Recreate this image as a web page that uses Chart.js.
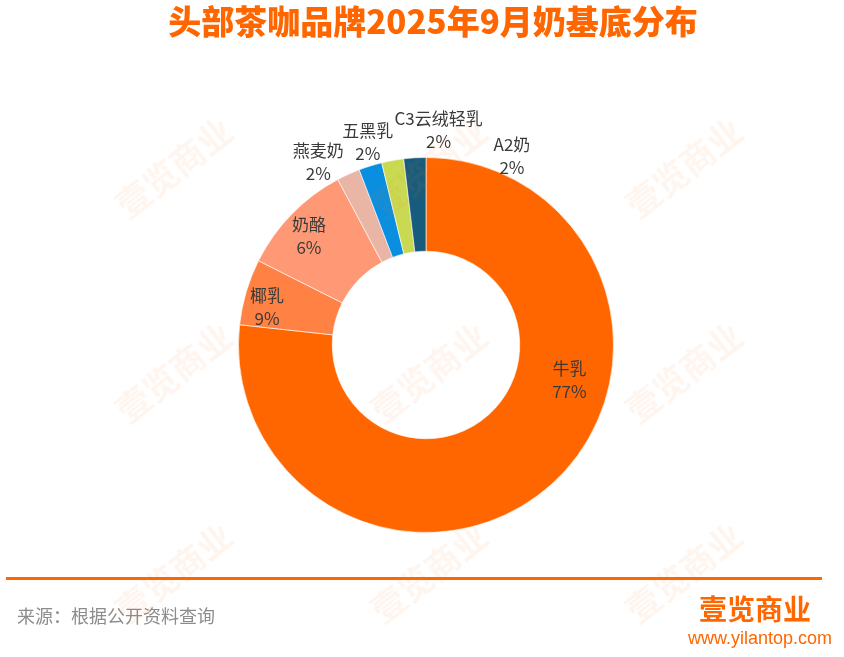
<!DOCTYPE html>
<html><head><meta charset="utf-8">
<script src="https://cdn.jsdelivr.net/npm/chart.js@4/dist/chart.umd.min.js"></script>
<style>
html,body{margin:0;padding:0;background:#fff;}
#wrap{position:relative;width:844px;height:657px;overflow:hidden;font-family:"Noto Sans CJK SC","Noto Sans",sans-serif;}
#c{position:absolute;left:0;top:0;}
#title{position:absolute;left:0;width:866px;top:-3px;height:46px;line-height:46px;text-align:center;color:#FF6600;font-size:33px;font-weight:900;}
#rule{position:absolute;left:6px;top:577px;width:816px;height:3px;background:#FF6600;}
#src{position:absolute;left:17px;top:602px;font-size:18px;color:#8c8c8c;line-height:26px;}
#logo{position:absolute;left:699px;top:590px;font-size:28px;color:#FF6600;font-weight:700;line-height:36px;letter-spacing:0px;}
#url{position:absolute;left:688px;top:627px;font-size:18px;color:#FF6600;line-height:22px;font-family:"Liberation Sans Narrow","Liberation Sans",sans-serif;}
.wm{position:absolute;font-size:34px;font-weight:700;color:rgba(255,110,30,0.07);transform:rotate(-38deg);white-space:nowrap;pointer-events:none;}
</style></head>
<body><div id="wrap">
<canvas id="c" width="844" height="657"></canvas>
<div id="title">头部茶咖品牌2025年9月奶基底分布</div>
<div id="rule"></div>
<div id="src">来源：根据公开资料查询</div>
<div id="logo">壹览商业</div>
<div id="url">www.yilantop.com</div>
</div>
<script>
const categories = ["牛乳","椰乳","奶酪","燕麦奶","五黑乳","C3云绒轻乳","A2奶"];
// slice sizes as drawn in the picture (%)
const sliceValues = [76.8, 5.7, 9.8, 2.0, 2.0, 1.9, 1.9];
// percentage texts as printed on the picture
const labelPercents = ["77%","9%","6%","2%","2%","2%","2%"];
const sliceColors = ["#FF6600","#FF8244","#FF9874","#E9B5A4","#0A8EDF","#C9DA52","#175C7D"];
// label placement: angle shift (deg) from slice middle, radius as fraction of outer radius
const labelPlacement = [
  {da:-34.5, r:0.787},{da:-2.9, r:0.872},{da:-1.5, r:0.851},
  {da:-6.0, r:1.133},{da:1.3, r:1.128},{da:13.6, r:1.149},{da:27.9, r:1.106}
];

const labelPlugin = {
  id:'sliceLabels',
  afterDatasetsDraw(chart){
    const ctx = chart.ctx;
    const meta = chart.getDatasetMeta(0);
    ctx.save();
    ctx.font = '17px "Noto Sans CJK SC", sans-serif';
    ctx.fillStyle = '#3a3a3a';
    ctx.textAlign = 'center';
    ctx.textBaseline = 'middle';
    meta.data.forEach((arc,i)=>{
      const p = arc.getProps(['x','y','startAngle','endAngle','outerRadius'], true);
      const mid = (p.startAngle + p.endAngle)/2 + labelPlacement[i].da*Math.PI/180;
      const r = p.outerRadius*labelPlacement[i].r;
      const x = p.x + r*Math.cos(mid), y = p.y + r*Math.sin(mid);
      ctx.fillText(categories[i], x, y-11.5);
      ctx.fillText(labelPercents[i], x, y+11.5);
    });
    ctx.restore();
  }
};

new Chart(document.getElementById('c'), {
  type:'doughnut',
  data:{labels:categories, datasets:[{data:sliceValues, backgroundColor:sliceColors, borderColor:'rgba(255,255,255,0.6)', borderWidth:1, hoverOffset:0}]},
  options:{
    responsive:false, animation:false, cutout:'50%',
    layout:{padding:{left:238,right:230,top:157,bottom:124}},
    plugins:{legend:{display:false},tooltip:{enabled:false}}
  },
  plugins:[labelPlugin]
});

// watermarks
const wmX = [105, 360, 615];
const wmY = [142, 347, 547];
const wrap = document.getElementById('wrap');
wmY.forEach(y=>wmX.forEach(x=>{
  const d=document.createElement('div'); d.className='wm'; d.textContent='壹览商业';
  d.style.left=x+'px'; d.style.top=y+'px'; wrap.appendChild(d);
}));
</script>
</body></html>
